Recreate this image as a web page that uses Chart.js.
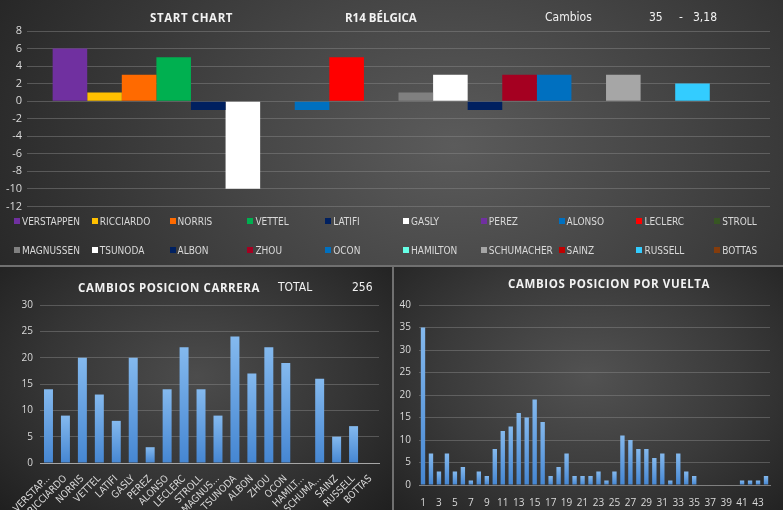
<!DOCTYPE html>
<html>
<head>
<meta charset="utf-8">
<script src="https://cdn.jsdelivr.net/npm/chart.js@4.4.0/dist/chart.umd.min.js"></script>
<style>
body{margin:0;width:783px;height:510px;background:#707070;overflow:hidden;position:relative;
  font-family:"Liberation Sans Narrow","DejaVu Sans Condensed",sans-serif;}
.panel{position:absolute;overflow:hidden}
#top{left:0;top:0;width:783px;height:265px;
  background:radial-gradient(ellipse 65% 140% at 58% 55%,#5b5b5b 0%,#444 45%,#262626 100%);}
#bl{left:0;top:267px;width:392px;height:243px;
  background:radial-gradient(ellipse 70% 80% at 50% 45%,#4c4c4c 0%,#353535 55%,#1f1f1f 100%);}
#br{left:394px;top:267px;width:389px;height:243px;
  background:radial-gradient(ellipse 70% 80% at 50% 45%,#525252 0%,#3a3a3a 55%,#222 100%);}
canvas{position:absolute;left:0;top:0}
.t{position:absolute;color:#f2f2f2;white-space:nowrap;line-height:14px}
.h{font-family:"Open Sans",sans-serif;font-weight:bold;font-size:11.5px;letter-spacing:0.6px}
.n{font-family:"Liberation Sans Narrow","DejaVu Sans Condensed",sans-serif;font-size:12px}
#legend{position:absolute;left:0;top:213px;width:783px;height:50px}
.li{position:absolute;font-size:10px;color:#d9d9d9;line-height:12px}
.li i{display:inline-block;width:6px;height:6px;margin-right:2px;vertical-align:1px}
</style>
</head>
<body>
<div class="panel" id="top">
  <canvas id="startChart" width="783" height="218"></canvas>
  <div class="t h" style="left:150px;top:11px">START CHART</div>
  <div class="t h" style="left:345px;top:11px;letter-spacing:0">R14 BÉLGICA</div>
  <div class="t n" style="left:545px;top:10px">Cambios</div>
  <div class="t n" style="left:649px;top:10px">35</div>
  <div class="t n" style="left:679px;top:10px">-</div>
  <div class="t n" style="left:693px;top:10px">3,18</div>
  <div id="legend"></div>
</div>
<div class="panel" id="bl">
  <canvas id="raceChart" width="392" height="243"></canvas>
  <div class="t h" style="left:78px;top:14px">CAMBIOS POSICION CARRERA</div>
  <div class="t n" style="left:278px;top:13px">TOTAL</div>
  <div class="t n" style="left:352px;top:13px">256</div>
</div>
<div class="panel" id="br">
  <canvas id="lapChart" width="389" height="243"></canvas>
  <div class="t h" style="left:114px;top:10px">CAMBIOS POSICION POR VUELTA</div>
</div>

<script>
// -------- DATA --------
const drivers = ["VERSTAPPEN","RICCIARDO","NORRIS","VETTEL","LATIFI","GASLY","PEREZ","ALONSO","LECLERC","STROLL",
  "MAGNUSSEN","TSUNODA","ALBON","ZHOU","OCON","HAMILTON","SCHUMACHER","SAINZ","RUSSELL","BOTTAS"];
const startGain = [6,1,3,5,-1,-10,0,-1,5,0,1,3,-1,3,3,0,3,0,2,0];

const raceLabels = ["VERSTAP...","RICCIARDO","NORRIS","VETTEL","LATIFI","GASLY","PEREZ","ALONSO","LECLERC","STROLL",
  "MAGNUS...","TSUNODA","ALBON","ZHOU","OCON","HAMILT...","SCHUMA...","SAINZ","RUSSELL","BOTTAS"];
const raceChanges = [14,9,20,13,8,20,3,14,22,14,9,24,17,22,19,0,16,5,7,0];

const laps = Array.from({length:44},(_,i)=>String(i+1));
const lapChanges = [35,7,3,7,3,4,1,3,2,8,12,13,16,15,19,14,2,4,7,2,2,2,3,1,3,11,10,8,8,6,7,1,7,3,2,0,0,0,0,0,1,1,1,2];

const driverColors = ["#7030A0","#FFC000","#FF6A00","#00B050","#002060","#FFFFFF","#7030A0","#0070C0","#FF0000","#375623",
  "#808080","#FFFFFF","#002060","#A50021","#0070C0","#66FFE6","#A6A6A6","#C00000","#33CCFF","#843C0C"];

const tickColor = "#d9d9d9";
const gridColor = "rgba(140,140,140,0.45)";
const narrow = "'Liberation Sans Narrow','DejaVu Sans Condensed',sans-serif";

// -------- START CHART --------
new Chart(document.getElementById("startChart"),{
  type:"bar",
  data:{
    labels:[""],
    datasets:drivers.map((d,i)=>({
      label:d,
      data:[startGain[i]],
      backgroundColor:driverColors[i],
      borderWidth:0,
      categoryPercentage:0.931,
      barPercentage:1
    }))
  },
  options:{
    responsive:false,animation:false,
    layout:{padding:{top:31,bottom:5,left:0,right:13}},
    plugins:{legend:{display:false},tooltip:{enabled:false}},
    scales:{
      x:{display:false},
      y:{
        min:-12,max:8,
        ticks:{stepSize:2,color:tickColor,padding:5,font:{family:"Open Sans",size:11}},
        grid:{color:gridColor,drawTicks:false},
        border:{display:false},
        afterFit:s=>{s.width=27;}
      }
    }
  }
});

// legend
const legend = document.getElementById("legend");
drivers.forEach((d,i)=>{
  const div = document.createElement("div");
  div.className = "li";
  div.style.left = (14 + (i%10)*77.8) + "px";
  div.style.top = (i<10 ? 3 : 32) + "px";
  div.innerHTML = `<i style="background:${driverColors[i]}"></i>${d}`;
  legend.appendChild(div);
});

// -------- BLUE BARS --------
function blueGrad(ctx){
  const c = ctx.chart;
  if(!c.chartArea || !ctx.parsed) return "#5b9bd5";
  const y = c.scales.y;
  const top = y.getPixelForValue(ctx.parsed.y), base = y.getPixelForValue(0);
  if(!(top < base)) return "#5b9bd5";
  const g = c.ctx.createLinearGradient(0,top,0,base);
  g.addColorStop(0,"#84b9ee");
  g.addColorStop(1,"#4586d2");
  return g;
}

new Chart(document.getElementById("raceChart"),{
  type:"bar",
  data:{labels:raceLabels,datasets:[{data:raceChanges,backgroundColor:blueGrad,borderWidth:0,
    categoryPercentage:1,barPercentage:0.53}]},
  options:{
    responsive:false,animation:false,
    layout:{padding:{top:38,left:0,right:13,bottom:0}},
    plugins:{legend:{display:false},tooltip:{enabled:false}},
    scales:{
      x:{
        ticks:{color:tickColor,minRotation:45,maxRotation:45,autoSkip:false,padding:2,
          font:{family:narrow,size:10}},
        grid:{display:false},
        border:{color:"#a6a6a6"},
        afterFit:s=>{s.height=47;}
      },
      y:{
        min:0,max:30,
        ticks:{stepSize:5,color:tickColor,padding:7,font:{family:"Open Sans",size:10}},
        grid:{color:gridColor,drawTicks:false},
        border:{display:false},
        afterFit:s=>{s.width=40;}
      }
    }
  }
});

new Chart(document.getElementById("lapChart"),{
  type:"bar",
  data:{labels:laps,datasets:[{data:lapChanges,backgroundColor:blueGrad,borderWidth:0,
    categoryPercentage:1,barPercentage:0.55}]},
  options:{
    responsive:false,animation:false,
    layout:{padding:{top:38,left:0,right:13,bottom:0}},
    plugins:{legend:{display:false},tooltip:{enabled:false}},
    scales:{
      x:{
        ticks:{color:tickColor,autoSkip:false,maxRotation:0,padding:4,
          font:{family:"Open Sans",size:10},
          callback:(v,i)=> i%2===0 ? laps[i] : ""},
        grid:{display:false},
        border:{color:"#7f7f7f"},
        afterFit:s=>{s.height=25;}
      },
      y:{
        min:0,max:40,
        ticks:{stepSize:5,color:tickColor,padding:8,font:{family:"Open Sans",size:10}},
        grid:{color:gridColor,drawTicks:false},
        border:{display:false},
        afterFit:s=>{s.width=25;}
      }
    }
  }
});
</script>
</body>
</html>
